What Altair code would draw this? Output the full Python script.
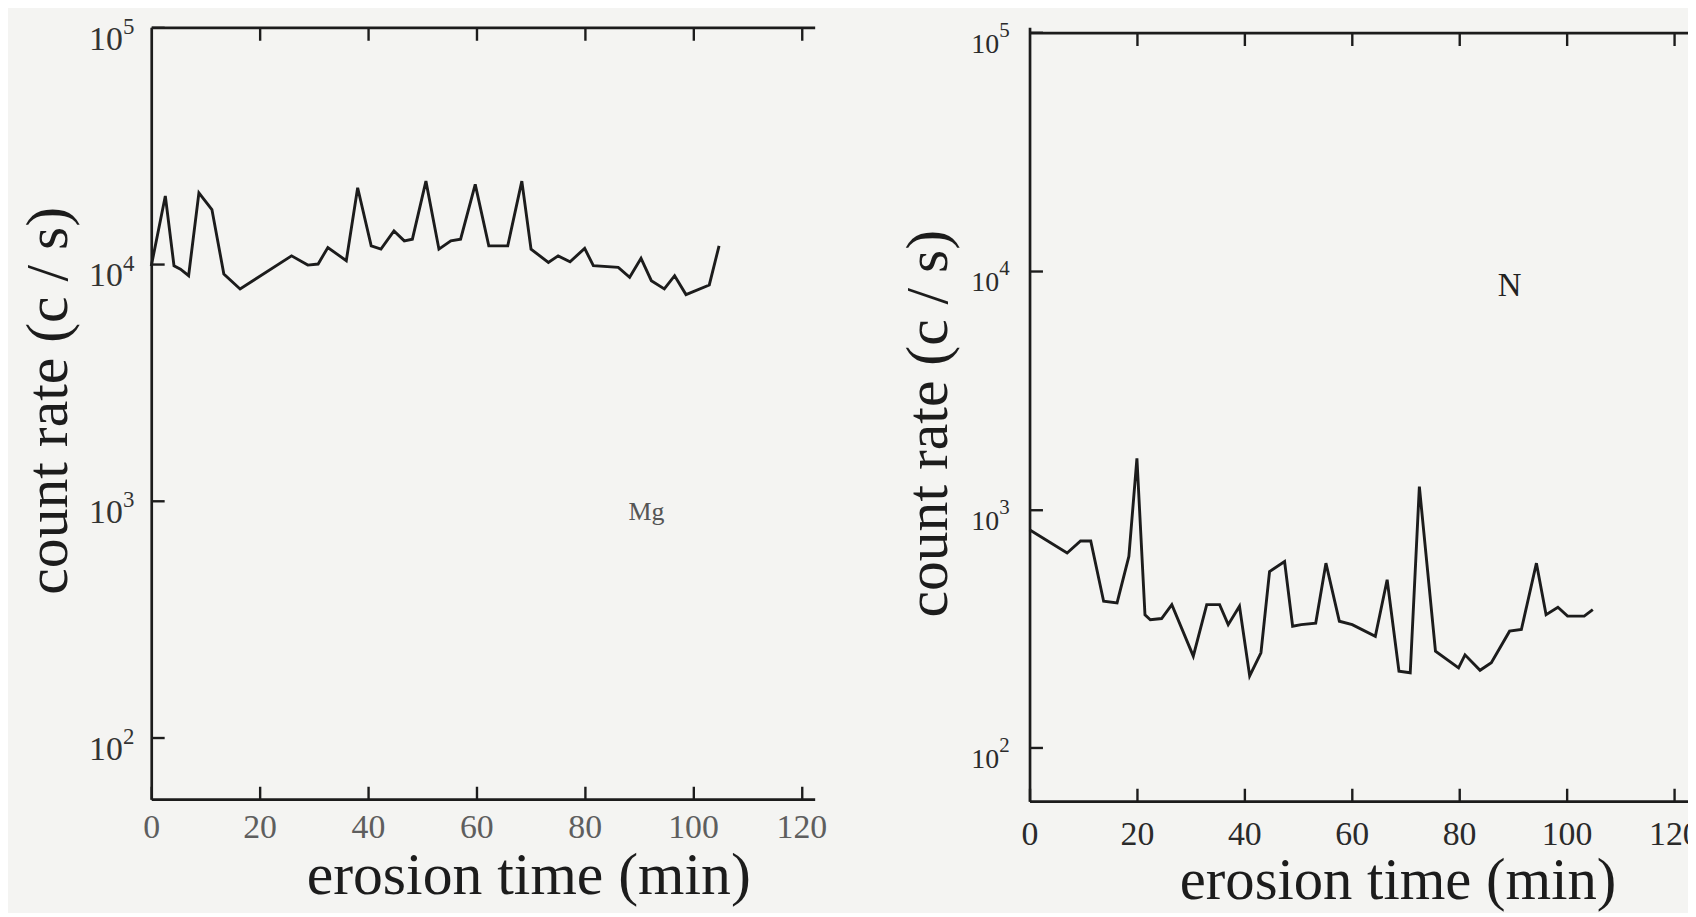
import altair as alt
import pandas as pd

# ---------------- data ----------------
mg_time = [0, 2.6, 4.2, 5.4, 6.9, 8.8, 11.2, 13.4, 16.4, 25.9, 28.9, 30.8, 32.6, 36.0,
           38.1, 40.6, 42.4, 44.8, 46.7, 48.2, 50.7, 53.1, 55.3, 57.1, 59.8, 62.3, 65.8,
           68.4, 70.1, 73.3, 75.1, 77.3, 80.0, 81.6, 86.2, 88.3, 90.4, 92.3, 94.7, 96.6,
           98.7, 103.0, 104.8]
mg_rate = [9800, 19400, 9840, 9520, 8930, 20000, 17000, 9080, 7850, 10830, 9900, 10000,
           11750, 10330, 21000, 11940, 11560, 13800, 12530, 12740, 22400, 11560, 12530,
           12740, 21700, 11940, 11940, 22400, 11560, 10160, 10830, 10230, 11640, 9840,
           9680, 8790, 10570, 8510, 7850, 8930, 7430, 8160, 11940]

n_time = [0, 7.0, 9.5, 11.4, 13.8, 16.3, 18.5, 20.0, 21.5, 22.5, 24.6, 26.5, 30.5, 33.0,
          35.4, 37.0, 39.1, 41.0, 43.1, 44.7, 47.5, 49.0, 50.6, 53.3, 55.2, 57.7, 60.1,
          64.4, 66.6, 68.8, 70.9, 72.6, 75.6, 79.9, 81.1, 83.9, 86.0, 89.4, 91.6, 94.4,
          96.2, 98.4, 100.2, 103.3, 104.9]
n_rate = [820, 655, 736, 736, 411, 405, 634, 1635, 361, 344, 348, 398, 242, 398, 398, 328,
          392, 200, 250, 548, 604, 323, 328, 333, 594, 339, 328, 293, 506, 209, 206, 1244,
          254, 216, 245, 211, 227, 308, 313, 594, 361, 388, 356, 356, 379]

x_tick_values = [0, 20, 40, 60, 80, 100, 120]
x_inner_ticks = [20, 40, 60, 80, 100, 120]
y_tick_values = [100, 1000, 10000, 100000]
y_tick_base = "10"
y_tick_exponents = ["2", "3", "4", "5"]
x_title = "erosion time (min)"
y_title = "count rate (c / s)"
panel_names = ["Mg", "N"]
name_time = [91.4, 89.4]
name_rate = [900, 8630]

# ---------------- styling ----------------
SERIF = "Liberation Serif"
INK = "#1c1c1c"
BG = "#f4f4f2"

exp_expr = ""
for v, e in zip(y_tick_values, y_tick_exponents):
    exp_expr += f"datum.value == {v} ? '{e}' : "
exp_expr += "''"
base_expr = f"'{y_tick_base}'"


def panel(times, rates, x_max, y_lo, y_hi, W, H, top_shift, gap_x, gap_y,
          y_lab_size, exp_size, exp_offset, x_lab_color, y_lab_color,
          ytx, yty, xtx, xty, x_title_size, name, n_t, n_v, name_size, name_color):
    df = pd.DataFrame({"time": times, "rate": rates})
    xs = alt.Scale(domain=[0, x_max], nice=False, zero=False)
    ys = alt.Scale(type="log", domain=[y_lo, y_hi], nice=False)

    line = alt.Chart(df).mark_line(color=INK, strokeWidth=2.9).encode(
        x=alt.X("time:Q", scale=xs, axis=alt.Axis(
            orient="top", offset=-H, values=x_tick_values, grid=False,
            domain=True, domainColor=INK, domainWidth=2.7,
            ticks=True, tickSize=13, tickWidth=2.4, tickColor=INK,
            labelFont=SERIF, labelFontSize=34, labelColor=x_lab_color,
            labelBaseline="top", labelAlign="center", labelAngle=0,
            labelPadding=-(13 + gap_x), labelFlush=False, labelOverlap=False,
            title=x_title, titleFont=SERIF, titleFontSize=x_title_size,
            titleFontWeight="normal", titleColor=INK, titleX=xtx, titleY=xty,
            titleAlign="center", titleBaseline="alphabetic", titleAngle=0)),
        y=alt.Y("rate:Q", scale=ys, axis=alt.Axis(
            orient="right", offset=-W, values=y_tick_values, grid=False,
            domain=True, domainColor=INK, domainWidth=2.7,
            ticks=True, tickSize=13, tickWidth=2.4, tickColor=INK,
            labelExpr=base_expr, labelFont=SERIF, labelFontSize=y_lab_size,
            labelColor=y_lab_color, labelAlign="right", labelBaseline="middle",
            labelOffset=12, labelPadding=-(13 + gap_y), labelFlush=False,
            labelOverlap=False,
            title=y_title, titleFont=SERIF, titleFontSize=60, titleFontWeight="normal",
            titleColor=INK, titleAngle=270, titleX=ytx, titleY=yty,
            titleAlign="center", titleBaseline="middle")),
    )

    # top border with inward ticks + the exponents of the y labels
    top = alt.Chart(df).mark_line(opacity=0).encode(
        x=alt.X("time:Q", scale=xs, axis=alt.Axis(
            orient="bottom", offset=-(H - top_shift), values=x_inner_ticks, grid=False,
            domain=True, domainColor=INK, domainWidth=2.7,
            ticks=True, tickSize=13, tickWidth=2.4, tickColor=INK,
            labels=False, title=None)),
        y=alt.Y("rate:Q", scale=ys, axis=alt.Axis(
            orient="right", offset=-W, values=y_tick_values, grid=False,
            domain=False, ticks=True, tickSize=13, tickOpacity=0,
            labelExpr=exp_expr, labelFont=SERIF, labelFontSize=exp_size,
            labelColor=y_lab_color, labelAlign="left", labelBaseline="middle",
            labelOffset=exp_offset, labelPadding=-(13 + gap_y), labelFlush=False,
            labelOverlap=False, title=None)),
    )

    lab = alt.Chart(pd.DataFrame({"time": [n_t], "rate": [n_v], "name": [name]})).mark_text(
        font=SERIF, fontSize=name_size, color=name_color, align="center", baseline="middle"
    ).encode(
        x=alt.X("time:Q", scale=xs, axis=None),
        y=alt.Y("rate:Q", scale=ys, axis=None),
        text="name:N",
    )

    return alt.layer(line, top, lab).resolve_axis(
        x="independent", y="independent").properties(width=W, height=H)


left = panel(mg_time, mg_rate, 122.45, 54.9, 100000, 667, 776, 0, 12, 29,
             34, 23, -1, "#5e5e5e", "#333333", -103, 375, 379, 95, 60,
             panel_names[0], name_time[0], name_rate[0], 26, "#555555")

right = panel(n_time, n_rate, 123, 59.6, 105220, 664, 778, 5.3, 17, 31,
              28, 21, -2, "#2a2a2a", "#2a2a2a", -101, 398, 370, 98, 59,
              panel_names[1], name_time[1], name_rate[1], 33, "#222222")

chart = alt.hconcat(left, right, spacing=216, bounds="flush").properties(
    padding={"left": 11, "top": 5, "right": -12, "bottom": 0},
    background=BG,
).configure_view(strokeWidth=0)

chart.save("out.html", embed_options={"renderer": "svg", "actions": False})
